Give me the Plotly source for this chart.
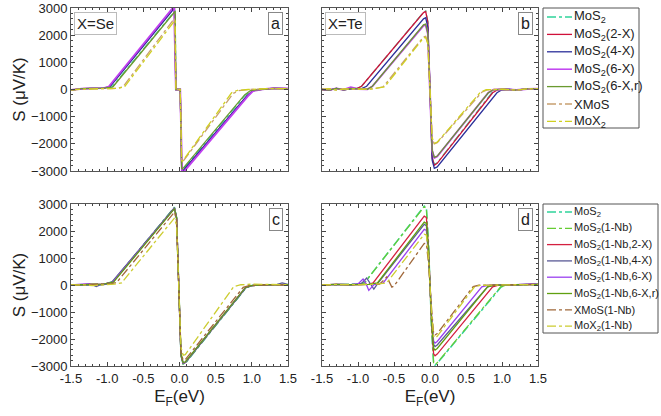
import plotly.graph_objects as go

# ---------------- data ----------------
# Panel a : X = Se
A_MOS2_X = [-1.5, -1.35, -1.2, -1.05, -0.93, -0.06, -0.05, 0.01, 0.03, 0.045, 0.91, 0.99, 1.15, 1.3, 1.5]
A_MOS2_Y = [-20, 30, 40, 50, 100, 2900, 0, 0, -2900, -2950, -200, -40, 10, 40, 30]
A_2X_X = [-1.5, -1.35, -1.2, -1.05, -0.97, -0.07, -0.05, 0.01, 0.03, 0.05, 0.93, 1.01, 1.15, 1.3, 1.5]
A_2X_Y = [-20, 30, 40, 50, 100, 3030, 0, 0, -3000, -3030, -250, -50, 10, 40, 30]
A_4X_X = [-1.5, -1.35, -1.2, -1.05, -0.96, -0.07, -0.05, 0.01, 0.03, 0.045, 0.93, 1.01, 1.15, 1.3, 1.5]
A_4X_Y = [-20, 30, 40, 50, 100, 3000, 0, 0, -2980, -3000, -240, -50, 10, 40, 30]
A_6X_X = [-1.5, -1.35, -1.2, -1.05, -0.98, -0.075, -0.05, 0.01, 0.035, 0.05, 0.94, 1.02, 1.15, 1.3, 1.5]
A_6X_Y = [-20, 30, 40, 50, 100, 3060, 0, 0, -3040, -3060, -260, -50, 10, 50, 40]
A_6XR_X = [-1.5, -1.35, -1.2, -1.05, -0.92, -0.06, -0.05, 0.01, 0.03, 0.04, 0.90, 0.98, 1.15, 1.3, 1.5]
A_6XR_Y = [-20, 30, 40, 50, 100, 2880, 0, 0, -2900, -2930, -200, -40, 10, 40, 30]
A_XMOS_X = [-1.5, -1.3, -1.1, -0.95, -0.85, -0.78, -0.07, -0.05, 0.01, 0.03, 0.04, 0.74, 0.82, 0.95, 1.2, 1.5]
A_XMOS_Y = [-10, 20, 30, 30, 50, 100, 2620, 0, 0, -2600, -2680, -150, -40, 0, 30, 30]
A_MOX2_X = [-1.5, -1.3, -1.1, -0.95, -0.84, -0.76, -0.06, -0.05, 0.01, 0.03, 0.04, 0.72, 0.80, 0.95, 1.2, 1.5]
A_MOX2_Y = [-10, 20, 30, 30, 50, 100, 2560, 0, 0, -2600, -2650, -120, -30, 0, 30, 30]

# Panel b : X = Te
B_MOS2_X = [-1.5, -1.4, -1.3, -1.2, -1.1, -1.02, -0.95, -0.09, -0.06, -0.03, 0.0, 0.03, 0.06, 0.1, 0.86, 0.93, 1.05, 1.2, 1.35, 1.5]
B_MOS2_Y = [0, -20, 40, -10, 20, 30, 120, 2840, 2890, 2500, 0, -2500, -2760, -2700, -120, -10, 10, -20, 20, 30]
B_2X_X = [-1.5, -1.4, -1.3, -1.2, -1.1, -1.02, -0.95, -0.09, -0.06, -0.03, 0.0, 0.03, 0.06, 0.1, 0.87, 0.94, 1.05, 1.2, 1.35, 1.5]
B_2X_Y = [0, -20, 40, -10, 20, 30, 120, 2830, 2870, 2480, 0, -2520, -2790, -2720, -120, -10, 10, -20, 20, 30]
B_4X_X = [-1.5, -1.4, -1.3, -1.2, -1.1, -0.95, -0.88, -0.09, -0.06, -0.03, 0.0, 0.03, 0.06, 0.1, 0.93, 1.0, 1.1, 1.2, 1.35, 1.5]
B_4X_Y = [0, -20, 40, -10, 20, 30, 120, 2600, 2640, 2300, 0, -2600, -2900, -2850, -120, -10, 10, -20, 20, 30]
B_6X_X = [-1.5, -1.4, -1.3, -1.2, -1.1, -1.0, -0.87, -0.8, -0.09, -0.06, -0.03, 0.0, 0.03, 0.06, 0.1, 0.81, 0.88, 1.0, 1.2, 1.35, 1.5]
B_6X_Y = [0, -20, 40, -10, 80, 20, 10, 120, 2350, 2380, 2050, 0, -2250, -2520, -2470, -120, -10, 10, -20, 20, 30]
B_6XR_X = [-1.5, -1.4, -1.3, -1.2, -1.1, -1.0, -0.87, -0.8, -0.09, -0.06, -0.03, 0.0, 0.03, 0.06, 0.1, 0.81, 0.88, 1.0, 1.2, 1.35, 1.5]
B_6XR_Y = [0, -20, 40, -10, 40, 20, 10, 120, 2380, 2410, 2080, 0, -2230, -2500, -2450, -120, -10, 10, -20, 20, 30]
B_XMOS_X = [-1.5, -1.4, -1.3, -1.2, -1.0, -0.8, -0.65, -0.09, -0.06, -0.03, 0.0, 0.03, 0.06, 0.1, 0.72, 0.8, 1.0, 1.2, 1.35, 1.5]
B_XMOS_Y = [0, 30, -20, 20, 10, 20, 100, 1940, 1960, 1700, 0, -1800, -2000, -1960, -100, -10, 10, -20, 20, 30]
B_MOX2_X = [-1.5, -1.4, -1.3, -1.2, -1.0, -0.8, -0.63, -0.09, -0.06, -0.03, 0.0, 0.03, 0.06, 0.1, 0.70, 0.78, 1.0, 1.2, 1.35, 1.5]
B_MOX2_Y = [0, 30, -20, 20, 10, 20, 100, 1900, 1920, 1680, 0, -1780, -1980, -1940, -100, -10, 10, -20, 20, 30]

# Panel c : X = Se with 1 Nb
C_MOS2_X = [-1.5, -1.35, -1.2, -1.05, -0.92, -0.07, -0.04, 0.02, 0.05, 0.08, 0.92, 1.0, 1.2, 1.4, 1.5]
C_MOS2_Y = [0, 10, 20, 30, 120, 2880, 2500, -2600, -2930, -2900, -100, -20, 10, 20, 10]
C_NB_X = [-1.5, -1.35, -1.2, -1.05, -0.92, -0.07, -0.04, 0.02, 0.05, 0.08, 0.92, 1.0, 1.2, 1.4, 1.5]
C_NB_Y = [0, 10, 20, 30, 120, 2870, 2500, -2600, -2920, -2890, -100, -20, 10, 20, 10]
C_2X_X = [-1.5, -1.35, -1.2, -1.05, -0.92, -0.07, -0.04, 0.02, 0.05, 0.08, 0.91, 0.99, 1.2, 1.4, 1.5]
C_2X_Y = [0, 10, 20, 30, 110, 2850, 2480, -2580, -2900, -2870, -100, -20, 10, 20, 10]
C_4X_X = [-1.5, -1.3, -1.2, -1.15, -1.1, -1.0, -0.93, -0.07, -0.04, 0.02, 0.05, 0.08, 0.92, 1.0, 1.2, 1.35, 1.42, 1.47, 1.5]
C_4X_Y = [0, 10, 0, -60, 0, 30, 120, 2860, 2480, -2600, -2900, -2880, -100, -20, 10, 20, 80, 60, 20]
C_6X_X = [-1.5, -1.3, -1.25, -1.2, -1.05, -0.92, -0.07, -0.04, 0.02, 0.05, 0.08, 0.91, 0.99, 1.2, 1.4, 1.5]
C_6X_Y = [0, 20, 50, 10, 30, 110, 2840, 2470, -2580, -2890, -2860, -100, -20, 10, 20, 10]
C_6XR_X = [-1.5, -1.35, -1.2, -1.05, -0.91, -0.07, -0.04, 0.02, 0.05, 0.08, 0.91, 0.99, 1.2, 1.4, 1.5]
C_6XR_Y = [0, 10, 20, 30, 110, 2830, 2460, -2570, -2880, -2850, -100, -20, 10, 20, 10]
C_XMOS_X = [-1.5, -1.35, -1.2, -1.05, -0.95, -0.87, -0.07, -0.04, 0.02, 0.05, 0.08, 0.88, 0.96, 1.2, 1.4, 1.5]
C_XMOS_Y = [0, 10, 20, 20, 40, 90, 2700, 2380, -2480, -2780, -2760, -90, -20, 10, 20, 10]
C_MOX2_X = [-1.5, -1.35, -1.2, -1.05, -0.9, -0.8, -0.07, -0.04, 0.02, 0.05, 0.08, 0.75, 0.85, 1.0, 1.2, 1.4, 1.5]
C_MOX2_Y = [0, 10, -20, 10, 30, 80, 2480, 2200, -2300, -2600, -2580, -60, 10, 30, 20, 20, 10]

# Panel d : X = Te with 1 Nb
D_MOS2_X = [-1.5, -1.3, -1.1, -1.0, -0.91, -0.08, -0.05, -0.02, 0.02, 0.05, 0.07, 0.1, 0.99, 1.06, 1.2, 1.45, 1.5]
D_MOS2_Y = [0, 10, 20, 30, 80, 2920, 2850, 1500, -1500, -2900, -2970, -2900, -70, -10, 10, 40, 20]
D_NB_X = [-1.5, -1.3, -1.1, -1.0, -0.91, -0.08, -0.05, -0.02, 0.02, 0.05, 0.07, 0.1, 0.98, 1.05, 1.2, 1.45, 1.5]
D_NB_Y = [0, 10, 20, 30, 80, 2900, 2830, 1480, -1480, -2880, -2950, -2880, -70, -10, 10, 30, 20]
D_2X_X = [-1.5, -1.3, -1.1, -0.95, -0.85, -0.79, -0.08, -0.05, -0.02, 0.02, 0.05, 0.07, 0.1, 0.87, 0.94, 1.2, 1.45, 1.5]
D_2X_Y = [0, 20, 10, 30, 20, 80, 2550, 2500, 1300, -1300, -2550, -2620, -2560, -70, -10, 10, 30, 20]
D_4X_X = [-1.5, -1.3, -1.1, -0.95, -0.88, -0.82, -0.78, -0.72, -0.08, -0.05, -0.02, 0.02, 0.05, 0.07, 0.1, 0.80, 0.88, 1.2, 1.45, 1.5]
D_4X_Y = [0, 20, 10, 60, 260, 20, -150, 80, 2250, 2200, 1150, -1150, -2200, -2280, -2220, -70, -10, 10, 30, 20]
D_6X_X = [-1.5, -1.3, -1.1, -1.0, -0.93, -0.89, -0.85, -0.78, -0.65, -0.08, -0.05, -0.02, 0.02, 0.05, 0.07, 0.1, 0.72, 0.8, 1.2, 1.45, 1.5]
D_6X_Y = [0, 20, 10, 40, 220, 60, -200, 10, 80, 2060, 2020, 1050, -1050, -2080, -2150, -2090, -70, -10, 10, 50, 20]
D_6XR_X = [-1.5, -1.3, -1.1, -0.95, -0.85, -0.73, -0.08, -0.05, -0.02, 0.02, 0.05, 0.07, 0.1, 0.80, 0.88, 1.2, 1.45, 1.5]
D_6XR_Y = [0, 20, 10, 30, 20, 80, 2330, 2280, 1200, -1200, -2340, -2410, -2350, -70, -10, 10, 30, 20]
D_XMOS_X = [-1.5, -1.3, -1.1, -0.9, -0.7, -0.6, -0.53, -0.5, -0.08, -0.05, -0.02, 0.02, 0.05, 0.07, 0.1, 0.60, 0.68, 1.2, 1.45, 1.5]
D_XMOS_Y = [0, 20, 10, 20, 30, 300, -80, -40, 1540, 1520, 800, -800, -1780, -1850, -1800, -60, -10, 10, 30, 20]
D_MOX2_X = [-1.5, -1.3, -1.1, -0.9, -0.75, -0.6, -0.08, -0.05, -0.02, 0.02, 0.05, 0.07, 0.1, 0.62, 0.7, 1.2, 1.45, 1.5]
D_MOX2_Y = [0, 20, 10, 20, 30, 80, 1880, 1850, 950, -950, -1900, -1960, -1900, -60, -10, 10, 30, 20]

LEG1_NAMES = ["MoS<sub>2</sub>", "MoS<sub>2</sub>(2-X)", "MoS<sub>2</sub>(4-X)", "MoS<sub>2</sub>(6-X)",
              "MoS<sub>2</sub>(6-X,r)", "XMoS", "MoX<sub>2</sub>"]
LEG2_NAMES = ["MoS<sub>2</sub>", "MoS<sub>2</sub>(1-Nb)", "MoS<sub>2</sub>(1-Nb,2-X)", "MoS<sub>2</sub>(1-Nb,4-X)",
              "MoS<sub>2</sub>(1-Nb,6-X)", "MoS<sub>2</sub>(1-Nb,6-X,r)", "XMoS(1-Nb)", "MoX<sub>2</sub>(1-Nb)"]
X_TICKS = [-1.5, -1.0, -0.5, 0.0, 0.5, 1.0, 1.5]
X_TICKTEXT = ["-1.5", "-1.0", "-0.5", "0.0", "0.5", "1.0", "1.5"]
Y_TICKS = [-3000, -2000, -1000, 0, 1000, 2000, 3000]

# ---------------- styles ----------------
STY1 = [("#2fd39a", "dashdot", 1.3), ("#d0103a", "solid", 1.3), ("#2b2f9a", "solid", 1.3),
        ("#c040f0", "solid", 1.9), ("#6a9a30", "solid", 1.3), ("#c8a070", "dashdot", 1.3),
        ("#d0d020", "dashdot", 1.3)]
STY2 = [("#2fd39a", "dashdot", 1.5), ("#66cc33", "dashdot", 1.2), ("#d42040", "solid", 1.3),
        ("#5a5a96", "solid", 1.3), ("#9a40f0", "solid", 1.3), ("#60a010", "solid", 1.3),
        ("#a0683a", "dashdot", 1.3), ("#cccc30", "dashdot", 1.3)]

PANEL_A = [(A_MOS2_X, A_MOS2_Y), (A_2X_X, A_2X_Y), (A_4X_X, A_4X_Y), (A_6X_X, A_6X_Y),
           (A_6XR_X, A_6XR_Y), (A_XMOS_X, A_XMOS_Y), (A_MOX2_X, A_MOX2_Y)]
PANEL_B = [(B_MOS2_X, B_MOS2_Y), (B_2X_X, B_2X_Y), (B_4X_X, B_4X_Y), (B_6X_X, B_6X_Y),
           (B_6XR_X, B_6XR_Y), (B_XMOS_X, B_XMOS_Y), (B_MOX2_X, B_MOX2_Y)]
PANEL_C = [(C_MOS2_X, C_MOS2_Y), (C_NB_X, C_NB_Y), (C_2X_X, C_2X_Y), (C_4X_X, C_4X_Y),
           (C_6X_X, C_6X_Y), (C_6XR_X, C_6XR_Y), (C_XMOS_X, C_XMOS_Y), (C_MOX2_X, C_MOX2_Y)]
PANEL_D = [(D_MOS2_X, D_MOS2_Y), (D_NB_X, D_NB_Y), (D_2X_X, D_2X_Y), (D_4X_X, D_4X_Y),
           (D_6X_X, D_6X_Y), (D_6XR_X, D_6XR_Y), (D_XMOS_X, D_XMOS_Y), (D_MOX2_X, D_MOX2_Y)]

FONT = "Liberation Sans, Arial, sans-serif"
W, H = 661, 416

fig = go.Figure()


def add_panel(data, styles, names, xa, ya):
    for (xs, ys), (c, d, w), n in zip(data, styles, names):
        fig.add_trace(go.Scatter(x=xs, y=ys, mode="lines", name=n,
                                 line=dict(color=c, dash=d, width=w),
                                 xaxis=xa, yaxis=ya, showlegend=False))


add_panel(PANEL_A, STY1, LEG1_NAMES, "x", "y")
add_panel(PANEL_B, STY1, LEG1_NAMES, "x2", "y2")
add_panel(PANEL_C, STY2, LEG2_NAMES, "x3", "y3")
add_panel(PANEL_D, STY2, LEG2_NAMES, "x4", "y4")

XD = {"a": [71 / W, 288 / W], "b": [322 / W, 538 / W]}
YD = {"top": [1 - 171 / H, 1 - 8 / H], "bot": [1 - 366 / H, 1 - 204 / H]}

common = dict(ticks="inside", ticklen=4, tickcolor="#444", tickwidth=1, automargin=False,
              showline=True, linecolor="#555", linewidth=1, mirror="allticks",
              showgrid=False, zeroline=False, tickfont=dict(size=13, color="#222", family=FONT))


def xax(dom, anchor, labels, title=None):
    d = dict(common, domain=dom, anchor=anchor, range=[-1.5, 1.5], tickvals=X_TICKS,
             ticktext=X_TICKTEXT, showticklabels=labels,
             minor=dict(dtick=0.1, tick0=0, ticks="inside", ticklen=2, tickcolor="#444"))
    if title:
        d["title"] = dict(text=title, font=dict(size=17, family=FONT, color="#222"), standoff=5)
    return d


def yax(dom, anchor, labels, title=None):
    d = dict(common, domain=dom, anchor=anchor, range=[-3000, 3000], tickvals=Y_TICKS,
             showticklabels=labels,
             minor=dict(dtick=200, tick0=0, ticks="inside", ticklen=2, tickcolor="#444"))
    if title:
        d["title"] = dict(text=title, font=dict(size=17, family=FONT, color="#222"), standoff=0)
    return d


fig.update_layout(
    template="none",
    width=W, height=H, margin=dict(l=0, r=0, t=0, b=0, autoexpand=False),
    paper_bgcolor="white", plot_bgcolor="white",
    font=dict(family=FONT, color="#222"),
    showlegend=False,
    xaxis=xax(XD["a"], "y", False), yaxis=yax(YD["top"], "x", True, "S (\u03bcV/K)"),
    xaxis2=xax(XD["b"], "y2", False), yaxis2=yax(YD["top"], "x2", False),
    xaxis3=xax(XD["a"], "y3", True, "E<sub>F</sub>(eV)"), yaxis3=yax(YD["bot"], "x3", True, "S (\u03bcV/K)"),
    xaxis4=xax(XD["b"], "y4", True, "E<sub>F</sub>(eV)"), yaxis4=yax(YD["bot"], "x4", False),
)


# ---------------- legends (drawn as boxes + samples + labels, in pixel layout) ----------------
def px(x):
    return x / W


def py(y):
    return 1 - y / H


def draw_legend(names, styles, box, y0, step, fsize):
    x0b, y0b, x1b, y1b = box
    fig.add_shape(type="rect", xref="paper", yref="paper", x0=px(x0b), x1=px(x1b),
                  y0=py(y1b), y1=py(y0b), line=dict(color="#555", width=1), fillcolor="white", layer="above")
    for i, (n, (c, d, w)) in enumerate(zip(names, styles)):
        yy = y0 + i * step
        fig.add_shape(type="line", xref="paper", yref="paper", x0=px(x0b + 4), x1=px(x0b + 29),
                      y0=py(yy), y1=py(yy), line=dict(color=c, dash=d, width=min(w, 1.5)), layer="above")
        fig.add_annotation(xref="paper", yref="paper", x=px(x0b + 29), y=py(yy), xanchor="left",
                           yanchor="middle", text=n, showarrow=False,
                           font=dict(size=fsize, family=FONT, color="#222"))


draw_legend(LEG1_NAMES, STY1, (543, 8, 639, 128), 17, 17.4, 13)
draw_legend(LEG2_NAMES, STY2, (543, 204, 658, 333), 212, 16.3, 11)

labels = [("x", "y", "a", "X=Se"), ("x2", "y2", "b", "X=Te"), ("x3", "y3", "c", None), ("x4", "y4", "d", None)]
for xa, ya, lab, txt in labels:
    fig.add_annotation(xref=f"{xa} domain", yref=f"{ya} domain", x=0.975, y=0.975,
                       xanchor="right", yanchor="top", text=lab, showarrow=False,
                       font=dict(size=16, family=FONT, color="#222"),
                       bordercolor="#888", borderwidth=1, borderpad=2, bgcolor="white")
    if txt:
        fig.add_annotation(xref=f"{xa} domain", yref=f"{ya} domain", x=0.015, y=0.975,
                           xanchor="left", yanchor="top", text=txt, showarrow=False,
                           font=dict(size=15, family=FONT, color="#222"),
                           bordercolor="#bbb", borderwidth=1, borderpad=2, bgcolor="white")

fig.write_html("out.html", config={"displayModeBar": False},
               post_script="document.body.style.margin='0px';")
